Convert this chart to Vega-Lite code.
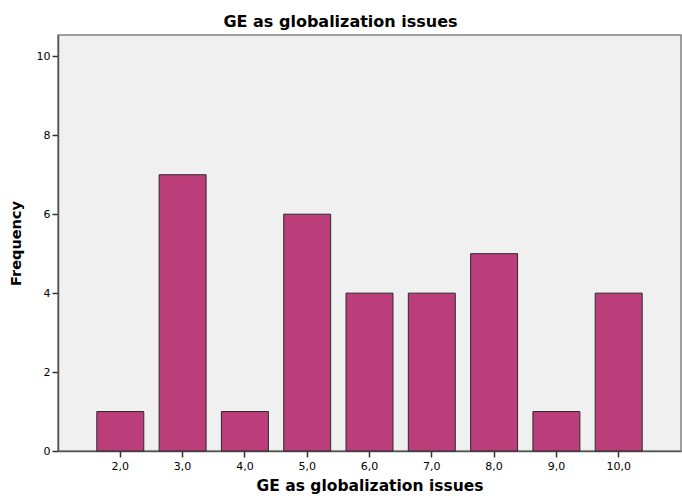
{
  "$schema": "https://vega.github.io/schema/vega-lite/v6.json",
  "autosize": {"type": "none"},
  "padding": {"left": 58, "top": 35, "right": 1, "bottom": 47},
  "width": 623,
  "height": 416,
  "background": "white",
  "title": {
    "text": "GE as globalization issues",
    "font": "DejaVu Sans",
    "fontSize": 16,
    "fontWeight": "bold",
    "color": "#000000",
    "offset": 5,
    "dx": -29
  },
  "config": {
    "view": {"fill": "#f0f0f0", "stroke": "#808080", "strokeWidth": 1.5},
    "axis": {
      "labelFont": "DejaVu Sans",
      "titleFont": "DejaVu Sans",
      "labelColor": "#000000",
      "titleColor": "#000000",
      "domainColor": "#555555",
      "domainWidth": 1.5,
      "tickColor": "#333333",
      "tickWidth": 1.5,
      "tickSize": 6,
      "grid": false
    }
  },
  "data": {
    "values": [
      {"value": "2,0", "frequency": 1},
      {"value": "3,0", "frequency": 7},
      {"value": "4,0", "frequency": 1},
      {"value": "5,0", "frequency": 6},
      {"value": "6,0", "frequency": 4},
      {"value": "7,0", "frequency": 4},
      {"value": "8,0", "frequency": 5},
      {"value": "9,0", "frequency": 1},
      {"value": "10,0", "frequency": 4}
    ]
  },
  "mark": {"type": "bar", "color": "#bb3e7b", "stroke": "#2a2a2a", "strokeWidth": 1},
  "encoding": {
    "x": {
      "field": "value",
      "type": "ordinal",
      "sort": null,
      "scale": {"paddingInner": 0.246, "paddingOuter": 0.623},
      "axis": {
        "title": "GE as globalization issues",
        "labelAngle": 0,
        "labelFontSize": 11,
        "labelPadding": 3,
        "titleFontSize": 15.5,
        "titleFontWeight": "bold",
        "titlePadding": 7
      }
    },
    "y": {
      "field": "frequency",
      "type": "quantitative",
      "scale": {"domain": [0, 10.54], "nice": false},
      "axis": {
        "title": "Frequency",
        "values": [0, 2, 4, 6, 8, 10],
        "labelFontSize": 11,
        "labelPadding": 2,
        "titleFontSize": 14.5,
        "titleFontWeight": "bold",
        "titlePadding": 13
      }
    }
  }
}
